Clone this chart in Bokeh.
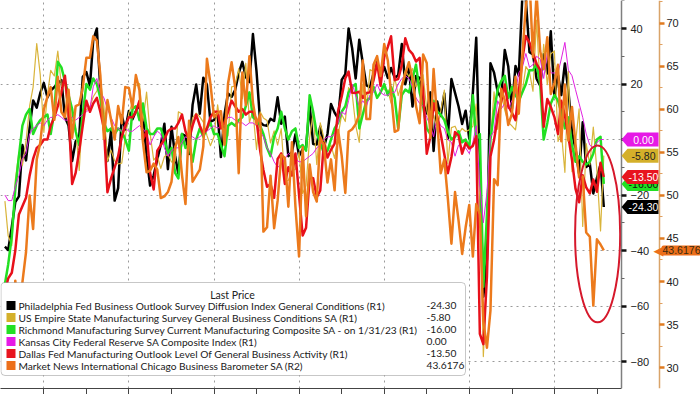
import pandas as pd
from bokeh.plotting import figure
from bokeh.models import (Range1d, LinearAxis, FixedTicker, Label, BoxAnnotation, PolyAnnotation,
                          ColumnDataSource, CustomJSTickFormatter)
from bokeh.embed import file_html
from bokeh.resources import INLINE

# ---------------- data (monthly, Jan 2009 .. Feb 2023) ----------------
philly = [
    -38.6, -39.8, -31.5, -22.5, -20.5, -2.0, -7.5, 4.2, 14.1, 11.5, 16.7, 20.4,
    15.2, 17.6, 18.9, 20.2, 21.4, 8.0, 5.1, -7.7, -0.7, 1.0, 22.5, 24.3,
    19.3, 35.9, 40.0, 18.5, 3.9, -7.7, 3.2, -22.0, -17.5, 8.7, 3.6, 10.3,
    7.3, 10.2, 12.5, 8.5, -5.8, -16.6, -12.9, -7.1, -1.9, 5.7, -10.7, 4.6,
    -5.8, -12.5, 2.0, 1.3, -5.2, 12.5, 19.8, 9.3, 22.3, 19.8, 6.5, 7.0,
    9.4, -6.3, 9.0, 16.6, 15.4, 17.8, 23.9, 28.0, 22.5, 20.7, 38.0, 24.5,
    6.3, 5.2, 5.0, 7.5, 6.7, 15.2, 5.7, 8.3, -6.0, -4.5, 1.9, -5.9,
    -3.5, -2.8, 12.4, -1.6, -1.8, 4.7, -2.9, 2.0, 12.8, 9.7, 7.6, 21.5,
    23.6, 40.0, 32.8, 22.0, 36.0, 27.6, 19.5, 18.9, 23.8, 27.9, 22.7, 26.2,
    22.2, 25.8, 22.3, 23.2, 34.4, 19.9, 25.7, 11.9, 22.9, 22.2, 12.9, 9.4,
    17.0, -4.1, 13.7, 8.5, 16.6, 0.3, 21.8, 16.8, 12.0, 5.6, 10.4, 0.3,
    17.0, 36.7, -12.7, -56.6, -43.1, 27.5, 24.1, 17.2, 15.0, 32.3, 26.3, 11.1,
    26.5, 23.1, 51.8, 50.2, 31.5, 30.7, 21.9, 19.4, 30.7, 23.8, 39.0, 15.4,
    23.2, 16.0, 27.4, 17.6, 2.6, -3.3, -12.3, 6.2, -9.9, -8.7, -19.4, -13.8,
    -8.9, -24.3]

empire = [
    -22.2, -34.7, -38.2, -14.7, -4.6, -9.4, -0.6, 12.1, 18.9, 34.6, 23.5, 2.6,
    15.9, 24.9, 22.9, 31.9, 19.1, 19.6, 5.1, 7.1, 4.1, -11.1, 11.1, 10.6,
    11.9, 15.4, 17.5, 21.7, 11.9, -7.8, -3.8, -7.7, -8.8, -8.5, 0.6, 9.5,
    13.5, 19.5, 20.2, 6.6, 17.1, 2.3, -7.4, -5.9, -10.4, -6.2, -5.2, -8.1,
    -7.8, 10.0, 9.2, 3.1, -1.4, 7.8, 9.5, 8.2, 6.3, 1.5, -2.2, 1.0,
    12.5, 4.5, 5.6, 1.3, 19.0, 19.3, 25.6, 14.7, 27.5, 6.2, 10.2, -3.6,
    10.0, 7.8, 6.9, -1.2, 3.1, -2.0, 3.9, -14.9, -14.7, -11.4, -10.7, -4.6,
    -19.4, -16.6, 0.6, 9.6, -9.0, 6.0, 0.6, -4.2, -2.0, -6.8, 1.5, 9.0,
    6.5, 18.7, 16.4, 5.2, -1.0, 19.8, 9.8, 25.2, 24.4, 30.2, 19.4, 18.0,
    17.7, 13.1, 22.5, 15.8, 20.1, 25.0, 22.6, 25.6, 19.0, 21.1, 23.3, 10.9,
    3.9, 8.8, 3.7, 10.1, 17.8, -8.6, 4.3, 4.8, 2.0, 4.0, 2.9, 3.5,
    4.8, 12.9, -21.5, -78.2, -48.5, -0.2, 17.2, 3.7, 17.0, 10.5, 6.3, 4.9,
    3.5, 12.1, 17.4, 26.3, 24.3, 17.4, 43.0, 18.3, 34.3, 19.8, 30.9, 31.9,
    -0.7, 3.1, -11.8, 24.6, -11.6, -1.2, 11.1, -31.3, -1.5, -9.1, 4.5, -11.2,
    -32.9, -5.8]

richmond = [
    -52, -45, -35, -18, -6, 5, 9, 11, 2, 5, 7, 8,
    9, 2, 10, 28, 26, 21, 16, 11, 3, -2, 9, 20,
    18, 22, 20, 15, 6, 3, 4, 2, 4, 3, 0, -4,
    11, 12, 7, 13, 4, 2, 2, 4, 4, 0, -5, -3,
    -12, -14, 2, -3, -2, -8, 0, 4, 1, 4, 6, 2,
    2, -2, -6, 5, 6, 5, 7, 8, 12, 17, 8, 7,
    5, 2, -3, -6, 1, 4, 10, 4, 0, 3, 4, -3,
    -2, -4, 16, 10, 2, -1, -5, -4, 0, 4, 6, 10,
    12, 17, 19, 20, 4, 9, 14, 15, 19, 15, 17, 20,
    16, 19, 15, 4, 16, 18, 17, 22, 27, 17, 12, 4,
    2, 14, 10, 9, 7, 3, 0, 1, 3, -1, 0, -3,
    16, 0, 2, -53, -27, 0, 10, 18, 21, 23, 15, 19,
    16, 14, 17, 20, 25, 25, 27, 20, 0, 6, 13, 16,
    14, 10, 4, 8, -2, -8, -6, -8, -9, -8, -5, 0,
    1, -16]

kansas = [
    -20, -22, -22, -17, -13, -7, -5, 2, 4, 5, 6, 5,
    7, 8, 8, 9, 8, 7, 7, 8, 7, 8, 9, 10,
    11, 19, 22, 17, 15, 11, 8, 5, 4, 3, 4, 3,
    3, 4, 5, 4, 2, -2, 1, 3, 2, -3, -6, -4,
    -3, -3, -1, 1, 0, 1, 0, 1, 2, 3, 4, 5,
    4, 5, 6, 8, 8, 7, 6, 6, 5, 6, 6, 5,
    3, 1, -3, -5, -8, -10, -9, -7, -5, -6, -7, -8,
    -8, -7, -6, -5, -3, -2, 0, 1, 1, 2, 6, 10,
    9, 14, 20, 16, 12, 14, 12, 16, 17, 20, 17, 16,
    16, 17, 17, 20, 22, 23, 22, 19, 15, 13, 12, 8,
    5, 1, 8, 5, 4, 0, -1, -6, -2, -3, -3, -5,
    -1, 5, -17, -30, -19, 1, 3, 14, 11, 13, 11, 14,
    17, 24, 26, 31, 26, 27, 30, 29, 22, 31, 24, 24,
    24, 29, 35, 25, 23, 18, 13, 8, 2, -2, -3, -1,
    0, 0]

dallas = [
    -55, -50, -48, -40, -27, -24, -21, -13, -7, -3, -2, 0,
    0, 5, 8, 12, 17, 23, 10, -16, -12, -4, 5, 14,
    10, 13, 15, 10, 4, -19, -14, -10, -6, 1, 5, 8,
    8, 10, 14, 0, 3, -12, -18, -4, -2, 0, 3, 4,
    4, 6, 9, 3, 0, 5, 9, 5, 2, 4, 8, 10,
    10, 4, 6, 10, 14, 12, 10, 11, 9, 10, 10, 7,
    -4, -11, -17, -16, -21, -7, -5, -16, -10, -13, -5, -20,
    -34.6, -31.8, -13.6, -13.9, -20.8, -18.3, -1.3, -6.5, -3.7, -1.5, 10.2, 15.5,
    22.1, 24.5, 16.9, 16.8, 17.2, 15.0, 16.8, 17.0, 21.3, 27.6, 19.4, 29.7,
    33.4, 37.2, 21.4, 21.8, 26.8, 36.5, 32.3, 30.9, 28.1, 29.4, 17.6, -5.1,
    1.0, 13.1, 8.3, 2.0, -5.3, -12.1, -6.3, 2.7, 1.5, -5.1, -1.3, -3.2,
    -2.3, 1.2, -70.0, -73.7, -49.2, -6.1, -0.2, 8.0, 13.6, 19.8, 12.0, 9.7,
    7.0, 17.2, 28.9, 37.3, 34.9, 31.1, 27.3, 25.0, 4.6, 14.6, 11.8, 8.1,
    2.0, 14.0, 8.7, 1.1, -7.3, -17.7, -22.6, -12.9, -17.2, -19.4, -14.4, -18.8,
    -8.4, -13.5]

chicago = [
    33.3, 34.2, 31.4, 40.1, 34.9, 39.9, 43.4, 50.0, 46.1, 54.2, 56.1, 60.0,
    61.5, 62.6, 58.8, 63.8, 59.7, 59.1, 62.3, 56.7, 60.4, 60.6, 62.5, 66.0,
    66.0, 68.5, 68.0, 64.0, 56.6, 61.1, 58.8, 56.5, 60.4, 58.4, 62.6, 62.5,
    60.2, 64.0, 62.2, 56.2, 52.7, 52.9, 53.7, 53.0, 49.7, 49.9, 50.4, 51.6,
    55.6, 56.8, 52.4, 49.0, 58.7, 51.6, 52.3, 53.0, 55.7, 65.9, 63.0, 59.1,
    59.6, 59.8, 55.9, 63.0, 65.5, 62.6, 52.6, 64.3, 60.5, 66.2, 60.8, 58.3,
    59.4, 45.8, 46.3, 52.3, 46.2, 49.4, 54.7, 54.4, 48.7, 56.2, 48.7, 42.9,
    55.6, 47.6, 53.6, 50.4, 49.3, 56.8, 55.8, 51.5, 54.2, 50.6, 57.6, 54.6,
    50.3, 57.4, 57.7, 58.3, 59.4, 65.7, 58.9, 58.9, 65.2, 66.2, 63.9, 67.6,
    65.7, 61.9, 57.4, 57.6, 62.7, 64.1, 65.5, 63.6, 60.4, 58.4, 66.4, 65.4,
    56.7, 64.7, 58.7, 52.6, 54.2, 49.7, 44.4, 50.4, 47.1, 43.2, 46.3, 48.9,
    42.9, 49.0, 47.8, 35.4, 32.3, 36.6, 51.9, 51.2, 62.4, 61.1, 58.2, 59.5,
    63.8, 59.5, 66.3, 72.1, 75.2, 66.1, 73.4, 66.8, 64.7, 68.4, 61.8, 63.1,
    65.2, 56.3, 62.9, 56.4, 60.3, 56.0, 52.1, 52.2, 45.7, 45.2, 37.2, 44.9,
    44.3, 43.6176]

series_keys = ["philly", "empire", "richmond", "kansas", "dallas", "chicago"]
series_names = [
    "Philadelphia Fed Business Outlook Survey Diffusion Index General Conditions",
    "US Empire State Manufacturing Survey General Business Conditions SA",
    "Richmond Manufacturing Survey Current Manufacturing Composite SA -  on 1/31/23",
    "Kansas City Federal Reserve SA Composite Index",
    "Dallas Fed Manufacturing Outlook Level Of General Business Activity",
    "Market News International Chicago Business Barometer SA",
]
series_axes = ["R1", "R1", "R1", "R1", "R1", "R2"]
last_labels = ["-24.30", "-5.80", "-16.00", "0.00", "-13.50", "43.6176"]
series_colors = ["#000000", "#d9b43a", "#22e022", "#e020e0", "#e8101a", "#ec7a1c"]
tag_colors = ["#000000", "#d4b02a", "#22e022", "#e619e6", "#e8141e", "#ec6f1a"]
tag_text_colors = ["#ffffff", "#222222", "#111111", "#ffffff", "#ffffff", "#3a2a10"]
series_widths = [2.5, 1.2, 2.5, 1.0, 2.5, 2.5]

r1_ticks = [-80, -60, -40, -20, 0, 20, 40]
r1_minor = [-90, -70, -50, -30, -10, 10, 30, 50]
r2_ticks = [30, 35, 40, 45, 50, 55, 60, 65, 70]
r2_minor = [27.5, 32.5, 37.5, 42.5, 47.5, 52.5, 57.5, 62.5, 67.5, 72.5]
tick_years = list(range(2010, 2024))
grid_years = [2010, 2012, 2014, 2016, 2018, 2020, 2022]

dates = pd.date_range("2009-01-01", periods=len(philly), freq="MS") + pd.offsets.MonthEnd(0)
src = ColumnDataSource(dict(date=dates, philly=philly, empire=empire, richmond=richmond,
                            kansas=kansas, dallas=dallas, chicago=chicago))

def ms(y):
    return pd.Timestamp(f"{y}-01-01").value // 10**6

W, H = 700, 394
PLOT_W, FRAME_H = 621, 388          # data area width (px) inside the full-width frame
R2_AXIS_PX = 659

t_start = pd.Timestamp("2008-12-24").value // 10**6
t_data_end = pd.Timestamp("2023-07-30").value // 10**6
ms_per_px = (t_data_end - t_start) / PLOT_W
t_frame_end = t_start + ms_per_px * W
t_r2_axis = t_start + ms_per_px * R2_AXIS_PX

r1_range = Range1d(-89.7, 50.1)
r2_range = Range1d(27.56, 72.67)

p = figure(width=W, height=H, x_axis_type="datetime",
           x_range=Range1d(t_start, t_frame_end),
           y_range=r1_range, y_axis_location=None,
           output_backend="svg", toolbar_location=None,
           min_border_left=0, min_border_top=0, min_border_right=0,
           min_border_bottom=H - FRAME_H)
p.extra_y_ranges = {"r2": r2_range}
p.outline_line_color = None
p.background_fill_color = "white"
p.border_fill_color = "white"

# bottom axis (ticks only, stops at the R1 axis)
xa = p.xaxis[0]
xa.ticker = FixedTicker(ticks=[ms(y) for y in tick_years])
xa.formatter = CustomJSTickFormatter(code="return ''")
xa.bounds = (t_start, t_data_end)
xa.axis_line_color = "#444444"
xa.major_tick_line_color = "#444444"
xa.major_tick_out = 6
xa.major_tick_in = 0
xa.minor_tick_out = 0
xa.major_label_standoff = 0

# R1 axis, fixed at the right end of the data area
ya = LinearAxis(fixed_location=t_data_end, ticker=FixedTicker(ticks=r1_ticks, minor_ticks=r1_minor))
ya.axis_line_color = "#7f7f7f"
ya.axis_line_width = 1.5
ya.major_tick_line_color = "#111111"
ya.major_tick_line_width = 2.5
ya.major_tick_out = 5
ya.major_tick_in = 0
ya.minor_tick_line_color = "#666666"
ya.minor_tick_out = 3
ya.minor_tick_in = 0
ya.major_label_text_font = "Liberation Sans"
ya.major_label_text_font_size = "11px"
ya.major_label_text_color = "#222222"
ya.major_label_standoff = 4
p.add_layout(ya, "right")

# R2 axis
r2 = LinearAxis(y_range_name="r2", fixed_location=t_r2_axis,
                ticker=FixedTicker(ticks=r2_ticks, minor_ticks=r2_minor))
r2.axis_line_color = "#d9a46a"
r2.axis_line_width = 1.5
r2.major_tick_line_color = "#e07b20"
r2.major_tick_line_width = 2.5
r2.major_tick_out = 5
r2.major_tick_in = 0
r2.minor_tick_line_color = "#e0a060"
r2.minor_tick_out = 3
r2.minor_tick_in = 0
r2.major_label_text_font = "Liberation Sans"
r2.major_label_text_font_size = "11px"
r2.major_label_text_color = "#222222"
r2.major_label_standoff = 2
p.add_layout(r2, "right")

# grids (R1 ticks horizontally, even years vertically)
p.ygrid.ticker = FixedTicker(ticks=r1_ticks)
p.ygrid.grid_line_color = "#9a9a9a"
p.ygrid.grid_line_dash = "2 4"
p.ygrid.grid_line_width = 1
p.xgrid.ticker = FixedTicker(ticks=[ms(y) for y in grid_years])
p.xgrid.grid_line_color = "#9a9a9a"
p.xgrid.grid_line_dash = "2 4"
p.xgrid.grid_line_width = 1
# keep the grid out of the axis strip
p.add_layout(BoxAnnotation(left=t_data_end, fill_color="white", fill_alpha=1.0,
                           line_color=None, level="underlay"))

# lines
for key, col, lw, ax in zip(series_keys, series_colors, series_widths, series_axes):
    kw = dict(y_range_name="r2") if ax == "R2" else {}
    p.line(x="date", y=key, source=src, line_color=col, line_width=lw,
           line_join="round", **kw)

# red ellipse highlighting the latest readings
p.ellipse(x=[pd.Timestamp("2023-01-06")], y=[-34.0],
          width=[1.06 * 365.25 * 86400000], height=[63.8],
          fill_color=None, line_color="#d6182b", line_width=2)

# legend box
LEG_FONT = "Lato"
LEG_SIZE = "10.2px"
p.add_layout(BoxAnnotation(left=0.5, right=465, bottom=13, top=106,
                           left_units="screen", right_units="screen",
                           bottom_units="screen", top_units="screen",
                           fill_color="white", fill_alpha=1.0,
                           line_color="#444444", line_width=1, border_radius=4))
p.add_layout(Label(x=232, y=94, x_units="screen", y_units="screen", text="Last Price",
                   text_align="center", text_baseline="middle", text_font=LEG_FONT,
                   text_font_size="10.5px", text_color="#222222"))
row_y = [83, 71, 59, 47, 35, 23]
for ry, name, ax, lv, col in zip(row_y, series_names, series_axes, last_labels, tag_colors):
    p.add_layout(BoxAnnotation(left=6, right=15, bottom=ry - 4.5, top=ry + 4.5,
                               left_units="screen", right_units="screen",
                               bottom_units="screen", top_units="screen",
                               fill_color=col, fill_alpha=1.0, line_color=None))
    p.add_layout(Label(x=18, y=ry, x_units="screen", y_units="screen",
                       text=f"{name}  ({ax})", text_baseline="middle", text_font=LEG_FONT,
                       text_font_size=LEG_SIZE, text_color="#1a1a1a"))
    p.add_layout(Label(x=426, y=ry, x_units="screen", y_units="screen", text=lv,
                       text_baseline="middle", text_font=LEG_FONT,
                       text_font_size=LEG_SIZE, text_color="#1a1a1a"))

# value tags at each series' last value, on its own axis
last_vals = [philly[-1], empire[-1], richmond[-1], kansas[-1], dallas[-1], chicago[-1]]
tag_order = [3, 1, 2, 4, 0, 5]
for k in tag_order:
    v = last_vals[k]
    if series_axes[k] == "R2":
        # body drawn as the label's own background, pointer as a glyph character
        p.add_layout(Label(x=663, y=v, x_units="screen", y_units="data", y_range_name="r2",
                           text="\u25c0", text_align="right", text_baseline="middle",
                           text_font="DejaVu Sans", text_font_size="13px",
                           text_color=tag_colors[k]))
        p.add_layout(Label(x=681, y=v, x_units="screen", y_units="data", y_range_name="r2",
                           text=last_labels[k], text_align="center", text_baseline="middle",
                           text_font="Liberation Sans", text_font_size="10.5px",
                           text_color=tag_text_colors[k],
                           background_fill_color=tag_colors[k], background_fill_alpha=1.0,
                           padding=(1, 1), border_radius=2))
    else:
        x0, x1, x2 = 621, 627, 658
        hh = 7 * (r1_range.end - r1_range.start) / FRAME_H   # half tag height, 7 px
        p.add_layout(PolyAnnotation(xs=[x0, x1, x2, x2, x1], ys=[v, v + hh, v + hh, v - hh, v - hh],
                                    xs_units="screen", ys_units="data",
                                    fill_color=tag_colors[k], fill_alpha=1.0, line_color=None))
        p.add_layout(Label(x=(x1 + x2) / 2 + 0.5, y=v, x_units="screen", y_units="data",
                           text=last_labels[k], text_align="center", text_baseline="middle",
                           text_font="Liberation Sans", text_font_size="10.5px",
                           text_color=tag_text_colors[k]))

open("out.html", "w").write(file_html(p, INLINE))
